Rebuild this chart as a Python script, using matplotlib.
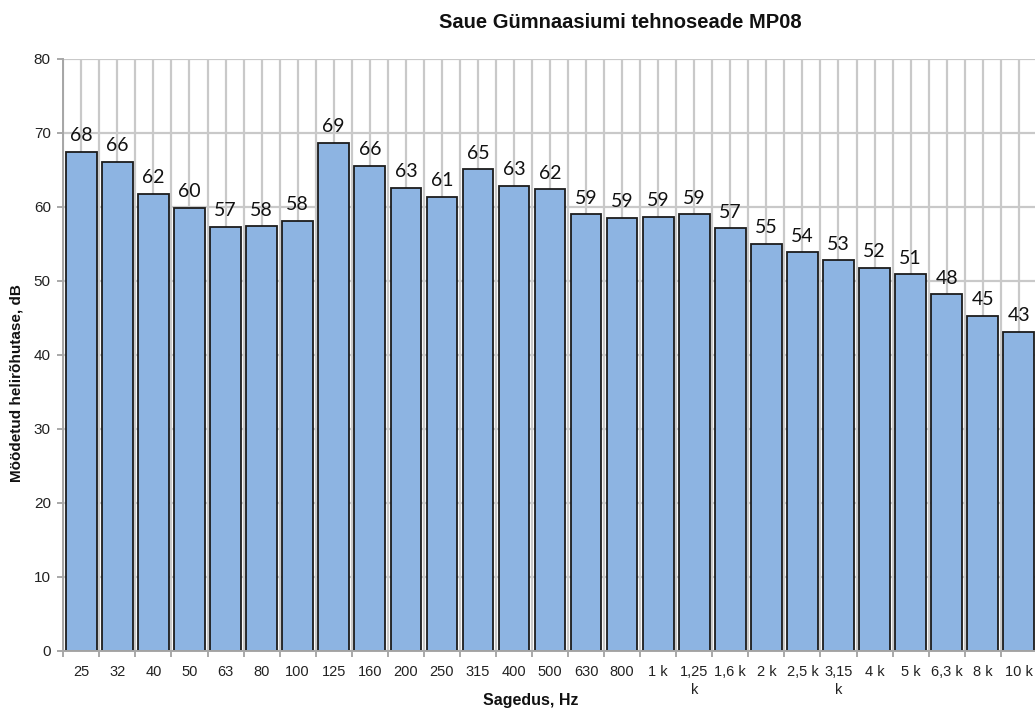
import matplotlib
matplotlib.use("Agg")
import matplotlib.pyplot as plt
import numpy as np

categories = ["25", "32", "40", "50", "63", "80", "100", "125", "160", "200",
              "250", "315", "400", "500", "630", "800", "1 k", "1,25\nk", "1,6 k",
              "2 k", "2,5 k", "3,15\nk", "4 k", "5 k", "6,3 k", "8 k", "10 k"]
values = [67.5, 66.1, 61.8, 59.9, 57.3, 57.4, 58.1, 68.7, 65.6, 62.6,
          61.4, 65.1, 62.9, 62.4, 59.0, 58.5, 58.7, 59.0, 57.1,
          55.0, 53.9, 52.8, 51.8, 50.9, 48.2, 45.3, 43.1]
labels = [68, 66, 62, 60, 57, 58, 58, 69, 66, 63,
          61, 65, 63, 62, 59, 59, 59, 59, 57,
          55, 54, 53, 52, 51, 48, 45, 43]
y_ticks = [0, 10, 20, 30, 40, 50, 60, 70, 80]

W, H = 1035, 709
fig = plt.figure(figsize=(W / 100, H / 100), dpi=100)
left, right = 63.3 / W, 1036.8 / W
bottom, top = (H - 651) / H, (H - 59) / H
ax = fig.add_axes([left, bottom, right - left, top - bottom])

n = len(categories)
x = np.arange(n)
grid_c = "#c9c9c9"

# grid lines
for b in np.arange(-0.5, n + 0.5, 0.5):
    ax.axvline(b, color=grid_c, lw=1.6, zorder=0)
for yv in y_ticks:
    ax.axhline(yv, color=grid_c, lw=1.6, zorder=0)

ax.bar(x, values, width=0.85, color="#8db4e2", edgecolor="#1c1c1c",
       linewidth=1.3, zorder=2)

for xi, v, lab in zip(x, values, labels):
    ax.annotate(str(lab), (xi, v), xytext=(0, 5.5), textcoords="offset points",
                ha="center", va="bottom", fontsize=14, family="Lato",
                color="#111111", zorder=3)

ax.set_xlim(-0.5, n - 0.5)
ax.set_ylim(0, 80)
ax.set_yticks(y_ticks)
ax.set_yticklabels([str(v) for v in y_ticks], fontsize=11,
                   family="Liberation Sans", color="#222222")
ax.set_xticks(x)
ax.set_xticklabels(categories, fontsize=10.5, family="Liberation Sans",
                   color="#222222", linespacing=1.35, va="top")
ax.set_xticks(np.arange(-0.5, n + 0.5, 1.0), minor=True)
ax.tick_params(axis="x", which="major", length=0, pad=10)
ax.tick_params(axis="x", which="minor", length=4, color="#9a9a9a", width=1.2)
ax.tick_params(axis="y", length=4, color="#9a9a9a", width=1.2, pad=5)

for s in ["top", "right"]:
    ax.spines[s].set_visible(False)
for s in ["left", "bottom"]:
    ax.spines[s].set_color("#a6a6a6")
    ax.spines[s].set_linewidth(1.4)

fig.text(620 / W, 1 - 22 / H, "Saue Gümnaasiumi tehnoseade MP08",
         ha="center", va="center", fontsize=14.5, fontweight="bold",
         family="Liberation Sans", color="#111111")
fig.text(531 / W, 1 - 700 / H, "Sagedus, Hz", ha="center", va="center",
         fontsize=11.5, fontweight="bold", family="Liberation Sans", color="#111111")
fig.text(17 / W, 1 - 383 / H, "Möödetud helirõhutase, dB", ha="center",
         va="center", rotation=90, fontsize=11, fontweight="bold",
         family="Liberation Sans", color="#111111")

fig.savefig("out.png", dpi=100, facecolor="white")
